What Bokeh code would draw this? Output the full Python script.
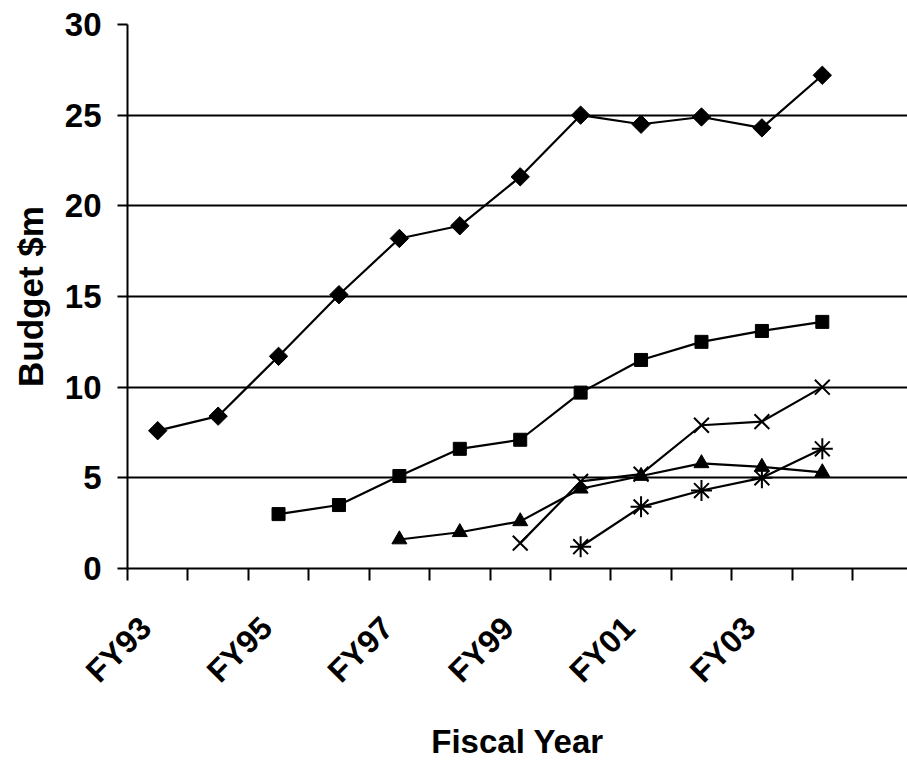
import math
from bokeh.plotting import figure
from bokeh.models import Range1d, FixedTicker, LinearAxis
from bokeh.embed import file_html
from bokeh.resources import INLINE

nan = float("nan")

years = ["FY93", "FY94", "FY95", "FY96", "FY97", "FY98", "FY99", "FY00", "FY01", "FY02", "FY03", "FY04"]
labelled_years = ["FY93", "FY95", "FY97", "FY99", "FY01", "FY03"]

series_diamond = [7.6, 8.4, 11.7, 15.1, 18.2, 18.9, 21.6, 25.0, 24.5, 24.9, 24.3, 27.2]
series_square = [nan, nan, 3.0, 3.5, 5.1, 6.6, 7.1, 9.7, 11.5, 12.5, 13.1, 13.6]
series_triangle = [nan, nan, nan, nan, 1.6, 2.0, 2.6, 4.4, 5.1, 5.8, 5.6, 5.3]
series_cross = [nan, nan, nan, nan, nan, nan, 1.4, 4.8, 5.2, 7.9, 8.1, 10.0]
series_star = [nan, nan, nan, nan, nan, nan, nan, 1.2, 3.4, 4.3, 5.0, 6.6]

y_ticks = [0, 5, 10, 15, 20, 25, 30]

# category centres on a numeric scale
xc = [i + 0.5 for i in range(len(years))]

FONT = "Liberation Sans"

p = figure(width=907, height=764, output_backend="svg", toolbar_location=None,
           x_range=Range1d(0, 12.91), y_range=Range1d(0, 30),
           min_border_left=127, min_border_top=24, min_border_right=0, min_border_bottom=196,
           x_axis_location=None, y_axis_location=None)
p.outline_line_color = None
p.background_fill_color = "white"
p.border_fill_color = "white"

# y axis
yax = LinearAxis(ticker=FixedTicker(ticks=y_ticks), axis_label="Budget $m")
yax.axis_line_width = 2
yax.axis_line_color = "black"
yax.major_tick_line_width = 2
yax.major_tick_out = 10
yax.major_tick_in = 0
yax.minor_tick_out = 0
yax.minor_tick_in = 0
yax.major_label_text_font = FONT
yax.major_label_text_font_style = "bold"
yax.major_label_text_font_size = "33px"
yax.major_label_text_color = "black"
yax.major_label_standoff = 16
yax.axis_label_text_font = FONT
yax.axis_label_text_font_style = "bold"
yax.axis_label_text_font_size = "35px"
yax.axis_label_text_color = "black"
yax.axis_label_standoff = 12
p.add_layout(yax, "left")

# x axis: labels near category centres (Excel-style rotated anchoring), ticks at boundaries
label_shift = -0.2
label_pos = [xc[years.index(y)] + label_shift for y in labelled_years]
xax = LinearAxis(ticker=FixedTicker(ticks=label_pos, minor_ticks=list(range(len(years) + 1))),
                 axis_label="Fiscal Year")
xax.major_label_overrides = {pos: lab for pos, lab in zip(label_pos, labelled_years)}
xax.axis_line_width = 2
xax.axis_line_color = "black"
xax.major_tick_out = 0
xax.major_tick_in = 0
xax.minor_tick_out = 12
xax.minor_tick_in = 0
xax.minor_tick_line_width = 2
xax.minor_tick_line_color = "black"
xax.major_label_orientation = math.pi / 4
xax.major_label_text_font = FONT
xax.major_label_text_font_style = "bold"
xax.major_label_text_font_size = "32px"
xax.major_label_text_color = "black"
xax.major_label_standoff = 42
xax.axis_label_text_font = FONT
xax.axis_label_text_font_style = "bold"
xax.axis_label_text_font_size = "33px"
xax.axis_label_text_color = "black"
xax.axis_label_standoff = 18
p.add_layout(xax, "below")

p.xgrid.visible = False
p.ygrid.ticker = FixedTicker(ticks=y_ticks)
p.ygrid.grid_line_color = "black"
p.ygrid.grid_line_width = 2
p.ygrid.grid_line_alpha = 1.0

lw = 2.2
p.line(xc, series_diamond, line_color="black", line_width=lw)
p.scatter(xc, series_diamond, marker="square", angle=math.pi / 4, size=13,
          fill_color="black", line_color="black")

p.line(xc, series_square, line_color="black", line_width=lw)
p.scatter(xc, series_square, marker="square", size=13, fill_color="black", line_color="black")

p.line(xc, series_triangle, line_color="black", line_width=lw)
p.scatter(xc, series_triangle, marker="triangle", size=15, fill_color="black", line_color="black")

p.line(xc, series_cross, line_color="black", line_width=lw)
p.scatter(xc, series_cross, marker="x", size=21, line_color="black", line_width=2)

p.line(xc, series_star, line_color="black", line_width=lw)
p.scatter(xc, series_star, marker="asterisk", size=21, line_color="black", line_width=2)

open("out.html", "w").write(file_html(p, INLINE))
